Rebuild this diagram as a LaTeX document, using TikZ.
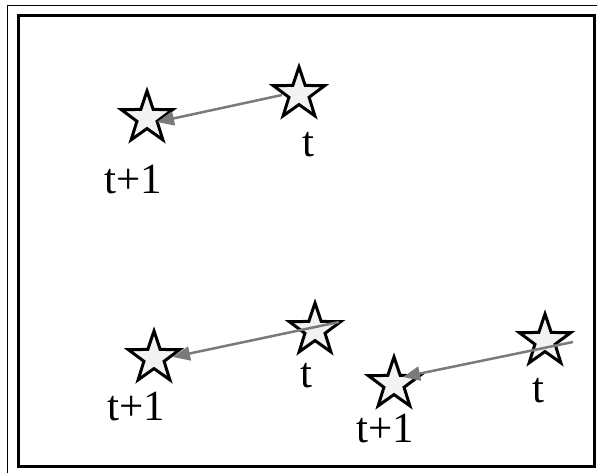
\documentclass[tikz,border=0pt]{standalone}
\usepackage{fontspec}
\setmainfont{Liberation Serif}
\usetikzlibrary{shapes.geometric,arrows.meta}
\definecolor{starfill}{HTML}{F2F2F2}
\definecolor{arrowgray}{HTML}{7A7A7A}
\begin{document}
\begin{tikzpicture}[x=1pt,y=-1pt,
  starnode/.style={star,star points=5,star point ratio=2.55,minimum size=54pt,
    inner sep=0pt,draw=black,line width=3pt,fill=starfill},
  lbl/.style={font=\fontsize{43}{43}\selectfont,anchor=base,inner sep=0pt},
  motion/.style={draw=arrowgray,line width=2.5pt,
    -{Triangle[length=17pt,width=14pt]}}]
\useasboundingbox (0,0) rectangle (597,473);
% frames
\draw[line width=1pt] (7,6) rectangle (620,500);
\draw[line width=3pt] (18,16) rectangle (594,466);
% upper pair
\node[starnode] (a1) at (147,118) {};
\node[starnode] (a0) at (299,94) {};
\node[lbl] (la1) at (133,194) {t+1};
\node[lbl] (la0) at (308,157) {t};
\draw[motion] ([shift={(-17,1)}]a0.center) -- ([shift={(10,4)}]a1.center);
% lower left pair
\node[starnode] (b1) at (154,358) {};
\node[starnode] (b0) at (315,330) {};
\node[lbl] (lb1) at (136,420) {t+1};
\node[lbl] (lb0) at (306,387) {t};
\draw[motion] ([shift={(24,-8)}]b0.center) -- ([shift={(19,-1)}]b1.center);
% lower right pair
\node[starnode] (c1) at (394,384) {};
\node[starnode] (c0) at (545,341) {};
\node[lbl] (lc1) at (385,442) {t+1};
\node[lbl] (lc0) at (538,402) {t};
\draw[motion] ([shift={(28,1)}]c0.center) -- ([shift={(9,-7)}]c1.center);
\end{tikzpicture}
\end{document}
